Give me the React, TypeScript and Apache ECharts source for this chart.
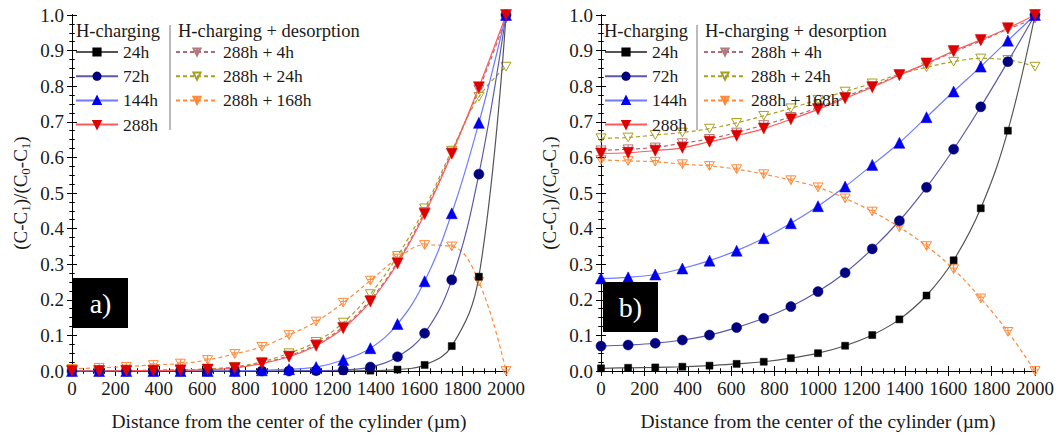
import React, { useEffect, useRef } from "react";
import * as echarts from "echarts";

const FONT = "Liberation Serif";

const X = [0, 125, 250, 375, 500, 625, 750, 875, 1000, 1125, 1250, 1375, 1500, 1625, 1750, 1875, 2000];
const Y_TICKS = [0, 0.1, 0.2, 0.3, 0.4, 0.5, 0.6, 0.7, 0.8, 0.9, 1.0];

const CHARGING = ["24h", "72h", "144h", "288h"];
const DESORPTION = ["288h + 4h", "288h + 24h", "288h + 168h"];

// Panel a)
const A_24 = [0, 0, 0, 0, 0, 0, 0, 0, 0, 0, 0, 0.001, 0.004, 0.017, 0.07, 0.265, 1.0];
const A_72 = [0, 0, 0, 0, 0, 0, 0, 0, 0, 0.001, 0.003, 0.011, 0.04, 0.106, 0.256, 0.553, 1.0];
const A_144 = [0, 0, 0, 0, 0, 0, 0, 0.002, 0.005, 0.011, 0.031, 0.064, 0.132, 0.252, 0.443, 0.697, 1.0];
const A_288 = [0, 0, 0.001, 0.001, 0.002, 0.004, 0.008, 0.021, 0.04, 0.071, 0.12, 0.195, 0.302, 0.441, 0.61, 0.797, 1.0];
const A_288_4 = [0.001, 0.001, 0.001, 0.002, 0.003, 0.005, 0.01, 0.023, 0.043, 0.075, 0.125, 0.2, 0.307, 0.447, 0.614, 0.79, 0.99];
const A_288_24 = [0.001, 0.001, 0.001, 0.002, 0.003, 0.006, 0.012, 0.026, 0.05, 0.082, 0.136, 0.216, 0.323, 0.457, 0.619, 0.77, 0.855];
const A_288_168 = [0.006, 0.009, 0.012, 0.017, 0.021, 0.031, 0.048, 0.068, 0.101, 0.139, 0.192, 0.254, 0.316, 0.354, 0.35, 0.251, 0];

// Panel b)
const B_24 = [0.0075, 0.009, 0.01, 0.012, 0.015, 0.02, 0.026, 0.036, 0.05, 0.071, 0.101, 0.145, 0.212, 0.311, 0.457, 0.675, 1.0];
const B_72 = [0.07, 0.073, 0.078, 0.087, 0.101, 0.122, 0.148, 0.181, 0.223, 0.276, 0.343, 0.422, 0.516, 0.623, 0.742, 0.869, 1.0];
const B_144 = [0.26, 0.263, 0.271, 0.288, 0.31, 0.338, 0.373, 0.415, 0.463, 0.518, 0.579, 0.641, 0.713, 0.785, 0.855, 0.928, 1.0];
const B_288 = [0.611, 0.613, 0.619, 0.627, 0.644, 0.661, 0.681, 0.707, 0.735, 0.766, 0.797, 0.831, 0.864, 0.899, 0.93, 0.963, 1.0];
const B_288_4 = [0.62, 0.623, 0.628, 0.64, 0.652, 0.67, 0.691, 0.714, 0.74, 0.77, 0.8, 0.832, 0.863, 0.896, 0.927, 0.96, 0.99];
const B_288_24 = [0.654, 0.656, 0.663, 0.67, 0.681, 0.697, 0.717, 0.738, 0.762, 0.785, 0.808, 0.834, 0.853, 0.869, 0.878, 0.874, 0.855];
const B_288_168 = [0.593, 0.59, 0.588, 0.581, 0.576, 0.567, 0.553, 0.536, 0.516, 0.485, 0.448, 0.404, 0.351, 0.286, 0.204, 0.11, 0];

const PANEL_A = [A_24, A_72, A_144, A_288, A_288_4, A_288_24, A_288_168];
const PANEL_B = [B_24, B_72, B_144, B_288, B_288_4, B_288_24, B_288_168];

const STAR = "path://M0,0L10,0L5,8.66Z M5,0L5,8.66 M1.8,3.2L8.2,3.2";
const TRI_DOWN = "path://M0,0L10,0L5,8.66Z";

const STYLES = [
  { name: "24h", line: "#555555", color: "#000000", symbol: "rect", size: 7, dashed: false },
  { name: "72h", line: "#5a5aa8", color: "#000080", symbol: "circle", size: 10, dashed: false },
  { name: "144h", line: "#6f7cff", color: "#0000ee", symbol: "triangle", size: 11, dashed: false },
  { name: "288h", line: "#ff5a5a", color: "#dd0000", symbol: "triangle", size: 11, dashed: false, rotate: 180 },
  { name: "288h + 4h", line: "#b06a72", color: "#b07a80", symbol: STAR, size: 10, dashed: true },
  { name: "288h + 24h", line: "#a8a020", color: "#a8a020", symbol: TRI_DOWN, size: 10, dashed: true },
  { name: "288h + 168h", line: "#ff8a3a", color: "#ff8a3a", symbol: STAR, size: 10, dashed: true },
];

const GRIDS = [
  { left: 72, right: 552, top: 15, bottom: 66 },
  { left: 601, right: 23, top: 15, bottom: 66 },
];

const TEXT = "#1a1a1a";

function xAxes(gi: number) {
  const base = {
    type: "value",
    gridIndex: gi,
    min: 0,
    max: 2000,
    interval: 200,
    splitLine: { show: false },
    axisLine: { show: true, lineStyle: { color: "#000", width: 1 } },
    minorTick: { show: true, splitNumber: 4, length: 2.5, lineStyle: { color: "#000" } },
  };
  const tick = (inside: boolean) => ({ show: true, inside, length: 5, lineStyle: { color: "#000" } });
  return [
    {
      ...base,
      position: "bottom",
      axisTick: tick(false),
      axisLabel: {
        show: true,
        fontFamily: FONT,
        fontSize: 19,
        color: TEXT,
        margin: 8,
        formatter: (v: number) => String(Math.round(v)),
      },
      name: "Distance from the center of the cylinder (µm)",
      nameLocation: "middle",
      nameGap: 40,
      nameTextStyle: { fontFamily: FONT, fontSize: 19.5, color: TEXT },
    },
    { ...base, position: "bottom", axisTick: tick(true), axisLabel: { show: false } },
    { ...base, position: "top", axisTick: tick(false), axisLabel: { show: false } },
    { ...base, position: "top", axisTick: tick(true), axisLabel: { show: false } },
  ];
}

function yAxes(gi: number) {
  const base = {
    type: "value",
    gridIndex: gi,
    min: 0,
    max: 1,
    interval: 0.1,
    splitLine: { show: false },
    axisLine: { show: true, lineStyle: { color: "#000", width: 1 } },
    minorTick: { show: true, splitNumber: 4, length: 2.5, lineStyle: { color: "#000" } },
  };
  const tick = (inside: boolean) => ({ show: true, inside, length: 5, lineStyle: { color: "#000" } });
  return [
    {
      ...base,
      position: "left",
      axisTick: tick(false),
      axisLabel: {
        show: true,
        fontFamily: FONT,
        fontSize: 19,
        color: TEXT,
        margin: 8,
        formatter: (v: number) => {
          const t = Y_TICKS.find((k) => Math.abs(k - v) < 1e-6);
          return t === undefined ? "" : t.toFixed(1);
        },
      },
      name: "{a|(C-C}{s|1}{a|)/(C}{s|0}{a|-C}{s|1}{a|)}",
      nameLocation: "middle",
      nameGap: 40,
      nameRotate: 90,
      nameTextStyle: {
        fontFamily: FONT,
        fontSize: 19,
        color: TEXT,
        rich: {
          a: { fontFamily: FONT, fontSize: 19, color: TEXT, lineHeight: 24 },
          s: { fontFamily: FONT, fontSize: 13, color: TEXT, lineHeight: 14, verticalAlign: "bottom" },
        },
      },
    },
    { ...base, position: "left", axisTick: tick(true), axisLabel: { show: false } },
    { ...base, position: "right", axisTick: tick(false), axisLabel: { show: false } },
    { ...base, position: "right", axisTick: tick(true), axisLabel: { show: false } },
  ];
}

function panelSeries(gi: number, data: number[][]) {
  const order = [4, 5, 6, 0, 1, 2, 3];
  return order.map((i) => {
    const s = STYLES[i];
    const open = s.dashed;
    return {
      type: "line",
      name: s.name,
      xAxisIndex: gi * 4,
      yAxisIndex: gi * 4,
      data: X.map((x, k) => [x, data[i][k]]),
      smooth: 0.4,
      symbol: s.symbol,
      symbolSize: s.size,
      symbolRotate: (s as any).rotate || 0,
      symbolKeepAspect: true,
      showAllSymbol: true,
      lineStyle: { color: s.line, width: 1.2, type: s.dashed ? [4, 3] : "solid" },
      itemStyle: open
        ? { color: "rgba(255,255,255,0)", borderColor: s.color, borderWidth: 1 }
        : { color: s.color, borderColor: s.color, borderWidth: 0.5 },
      z: open ? 2 : 3,
    };
  });
}

function legendFor(names: string[], left: number) {
  return {
    data: names,
    left,
    top: 43,
    orient: "vertical",
    itemWidth: 42,
    itemHeight: 9,
    itemGap: 6.2,
    padding: 0,
    selectedMode: false,
    textStyle: { fontFamily: FONT, fontSize: 17.5, color: TEXT },
  };
}

function headers(x1: number, sep: number, x2: number) {
  return [
    { type: "text", left: x1, top: 21, style: { text: "H-charging", font: `18.5px ${FONT}`, fill: TEXT } },
    { type: "line", shape: { x1: sep, y1: 25, x2: sep, y2: 130 }, style: { stroke: "#777", lineWidth: 1 } },
    { type: "text", left: x2, top: 21, style: { text: "H-charging + desorption", font: `18.5px ${FONT}`, fill: TEXT } },
  ];
}

function panelLabel(x: number, y: number, label: string) {
  return [
    { type: "rect", shape: { x, y, width: 55, height: 50 }, style: { fill: "#000" }, z: 10 },
    {
      type: "text",
      x: x + 27.5,
      y: y + 25,
      style: { text: label, font: `28px ${FONT}`, fill: "#fff", align: "center", verticalAlign: "middle" },
      z: 11,
    },
  ];
}

export default function App() {
  const ref = useRef<HTMLDivElement>(null);
  useEffect(() => {
    document.body.style.margin = "0";
    if (!ref.current) return;
    const chart = echarts.init(ref.current, undefined, { renderer: "svg" });
    chart.setOption({
      animation: false,
      backgroundColor: "#ffffff",
      textStyle: { fontFamily: FONT },
      grid: GRIDS,
      xAxis: [...xAxes(0), ...xAxes(1)],
      yAxis: [...yAxes(0), ...yAxes(1)],
      legend: [
        legendFor(CHARGING, 75),
        legendFor(DESORPTION, 175),
        legendFor(CHARGING, 604),
        legendFor(DESORPTION, 703),
      ],
      series: [...panelSeries(0, PANEL_A), ...panelSeries(1, PANEL_B)],
      graphic: [
        ...headers(76, 170, 178),
        ...headers(604, 697, 705),
        ...panelLabel(73, 278, "a)"),
        ...panelLabel(603, 282, "b)"),
      ],
    });
    return () => chart.dispose();
  }, []);
  return <div ref={ref} style={{ width: 1058, height: 437 }} />;
}
